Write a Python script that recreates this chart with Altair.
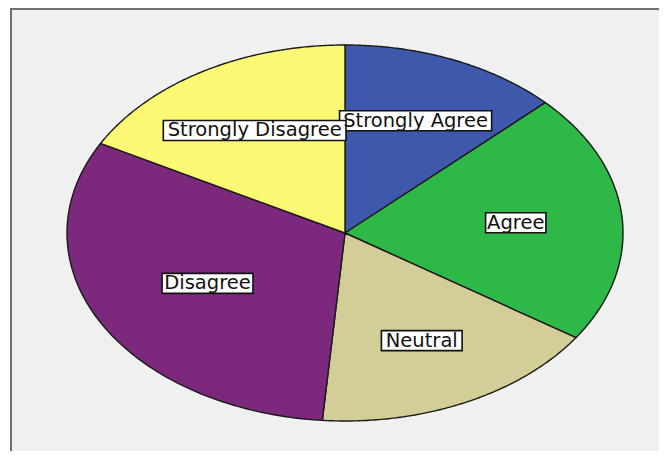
import altair as alt
import pandas as pd

# ---- data ----
categories = ["Strongly Agree", "Agree", "Neutral", "Disagree", "Strongly Disagree"]
percents = [12.8, 21.6, 16.9, 31.6, 17.1]
colors = ["#3E58AC", "#2EB848", "#D3CE97", "#7C287D", "#FBF873"]

df = pd.DataFrame({"cat": categories, "pct": percents, "idx": list(range(len(categories)))})

# ---- layout ----
VIEW_W, VIEW_H = 651, 443
CX, CY = 337, 225          # pie centre inside the view (px)
RX, RY = 278, 188          # ellipse radii (px)
X_DOM = [-CX / RX, (VIEW_W - CX) / RX]
Y_DOM = [-(VIEW_H - CY) / RY, CY / RY]
FONT = "DejaVu Sans"
FONT_SIZE = 19.5
BOX_H = 20

xs = alt.Scale(domain=X_DOM, nice=False, zero=False)
ys = alt.Scale(domain=Y_DOM, nice=False, zero=False)

N = 120

base = (
    alt.Chart(df)
    .transform_joinaggregate(total="sum(pct)")
    .transform_window(cum="sum(pct)", sort=[alt.SortField("idx", order="ascending")], frame=[None, 0])
    .transform_calculate(
        a0="2*PI*(datum.cum-datum.pct)/datum.total",
        a1="2*PI*datum.cum/datum.total",
    )
)

frame = (
    alt.Chart(alt.Data(values=[{"a": 1}]))
    .mark_rect(fill="#F0F0F0", stroke="#707070", strokeWidth=2)
    .encode(x=alt.value(3), x2=alt.value(760), y=alt.value(1), y2=alt.value(560))
)

wedges = (
    base.transform_calculate(k=f"sequence(0, {N + 3})")
    .transform_flatten(["k"])
    .transform_calculate(
        t=f"(datum.k-1)/{N}",
    )
    .transform_calculate(ang="datum.a0+(datum.a1-datum.a0)*datum.t")
    .transform_calculate(
        px=f"(datum.k==0||datum.k=={N + 2})?0:sin(datum.ang)",
        py=f"(datum.k==0||datum.k=={N + 2})?0:cos(datum.ang)",
    )
    .mark_line(stroke="#1a1a1a", strokeWidth=1.4, strokeJoin="round")
    .encode(
        x=alt.X("px:Q", scale=xs, axis=None),
        y=alt.Y("py:Q", scale=ys, axis=None),
        order=alt.Order("k:Q"),
        detail="cat:N",
        fill=alt.Fill("cat:N", scale=alt.Scale(domain=categories, range=colors), legend=None),
    )
)

labels = (
    base.transform_calculate(half="(datum.a1-datum.a0)/2", mid="(datum.a0+datum.a1)/2")
    .transform_calculate(rc="2*sin(datum.half)/(3*datum.half)")
    .transform_calculate(
        lx="datum.rc*sin(datum.mid)",
        ly="datum.rc*cos(datum.mid)",
        bw="length(datum.cat)*10.2+9.3",
    )
    .transform_calculate(
        bx1=f"datum.lx-datum.bw/2/{RX}",
        bx2=f"datum.lx+datum.bw/2/{RX}",
        by1=f"datum.ly-{BOX_H / 2}/{RY}",
        by2=f"datum.ly+{BOX_H / 2}/{RY}",
    )
)

boxes = labels.mark_rect(fill="white", stroke="#111111", strokeWidth=1.6).encode(
    x=alt.X("bx1:Q", scale=xs, axis=None),
    x2="bx2:Q",
    y=alt.Y("by1:Q", scale=ys, axis=None),
    y2="by2:Q",
)

texts = labels.mark_text(font=FONT, fontSize=FONT_SIZE, color="#111111", baseline="middle", align="center").encode(
    x=alt.X("lx:Q", scale=xs, axis=None),
    y=alt.Y("ly:Q", scale=ys, axis=None),
    text="cat:N",
)

chart = (
    alt.layer(frame, wedges, boxes, texts)
    .properties(width=VIEW_W, height=VIEW_H, padding=0, autosize=alt.AutoSizeParams(type="none"))
    .configure_view(stroke=None)
)

chart.save("out.html", embed_options={"renderer": "svg", "actions": False})
